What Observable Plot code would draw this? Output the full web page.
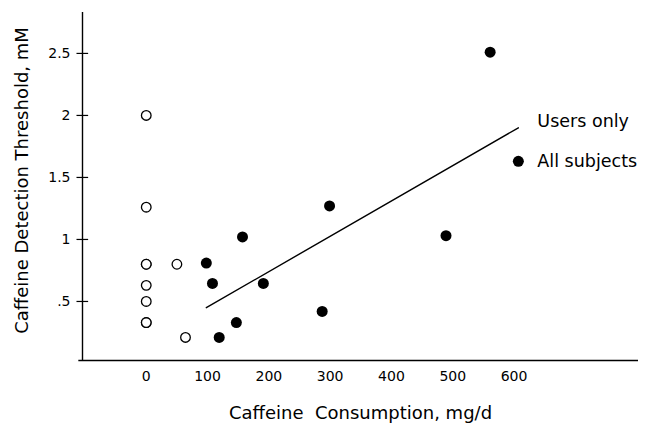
<!DOCTYPE html>
<html>
<head>
<meta charset="utf-8">
<script src="https://cdn.jsdelivr.net/npm/d3@7"></script>
<script src="https://cdn.jsdelivr.net/npm/@observablehq/plot@0.6"></script>
<style>
  html, body { margin: 0; padding: 0; background: #fff; }
</style>
</head>
<body>
<div id="chart"></div>
<script>
// Open circles (non-users / low consumers)
const openX = [0, 0, 0, 0, 0, 0, 0, 0, 50, 64];
const openY = [2.0, 1.26, 0.8, 0.8, 0.63, 0.5, 0.33, 0.33, 0.8, 0.21];
// Filled circles (users)
const fillX = [98, 108, 157, 191, 147, 119, 299, 287, 489, 561];
const fillY = [0.81, 0.645, 1.02, 0.645, 0.33, 0.21, 1.27, 0.42, 1.03, 2.51];
// Regression line (users only)
const lineX = [98, 607];
const lineY = [0.45, 1.9];
// Legend entries
const legendLabels = ["Users only", "All subjects"];
const legendX = [638, 638];
const legendY = [1.95, 1.63];
const legendDotX = [607];
const legendDotY = [1.63];
// Axes
const xTicks = [0, 100, 200, 300, 400, 500, 600];
const yTicks = [0.5, 1, 1.5, 2, 2.5];
const yTickLabels = [".5", "1", "1.5", "2", "2.5"];
const xTitle = "Caffeine  Consumption, mg/d";
const yTitle = "Caffeine Detection Threshold, mM";
const xDomain = [-104, 803];
const yDomain = [0.024, 2.83];

const openData = openX.map((x, i) => ({x, y: openY[i]}));
const fillData = fillX.map((x, i) => ({x, y: fillY[i]}));
const lineData = lineX.map((x, i) => ({x, y: lineY[i]}));
const legendData = legendLabels.map((t, i) => ({t, x: legendX[i], y: legendY[i]}));
const legendDot = legendDotX.map((x, i) => ({x, y: legendDotY[i]}));

const chart = Plot.plot({
  width: 646,
  height: 424,
  marginLeft: 82,
  marginRight: 8,
  marginTop: 12,
  marginBottom: 64,
  x: {domain: xDomain, label: null},
  y: {domain: yDomain, label: null},
  style: {fontFamily: "DejaVu Sans", fontSize: "14px", background: "white", color: "black"},
  marks: [
    Plot.ruleX([xDomain[0]], {stroke: "black", strokeWidth: 1.4}),
    Plot.ruleY([yDomain[0]], {x1: -110, x2: xDomain[1], stroke: "black", strokeWidth: 1.4}),
    Plot.ruleY(yTicks, {x1: xDomain[0] - 9, x2: xDomain[0] + 10, stroke: "black", strokeWidth: 1.2}),
    Plot.axisY(yTicks, {
      tickSize: 0, tickPadding: 12,
      tickFormat: (d) => yTickLabels[yTicks.indexOf(d)],
      fontSize: 14, label: null
    }),
    Plot.axisX(xTicks, {tickSize: 0, tickPadding: 11, fontSize: 14, label: null}),
    Plot.text([xTitle], {frameAnchor: "bottom", lineAnchor: "middle", dy: 53, fontSize: 18}),
    Plot.text([yTitle], {frameAnchor: "left", textAnchor: "middle", rotate: -90, dx: -60, dy: -6, fontSize: 18}),
    Plot.line(lineData, {x: "x", y: "y", stroke: "black", strokeWidth: 1.4}),
    Plot.dot(openData, {x: "x", y: "y", r: 4.8, stroke: "black", strokeWidth: 1.3, fill: "white"}),
    Plot.dot(fillData, {x: "x", y: "y", r: 5.5, fill: "black"}),
    Plot.dot(legendDot, {x: "x", y: "y", r: 5.5, fill: "black"}),
    Plot.text(legendData, {x: "x", y: "y", text: "t", textAnchor: "start", fontSize: 17.5})
  ]
});
document.getElementById("chart").appendChild(chart);
</script>
</body>
</html>
